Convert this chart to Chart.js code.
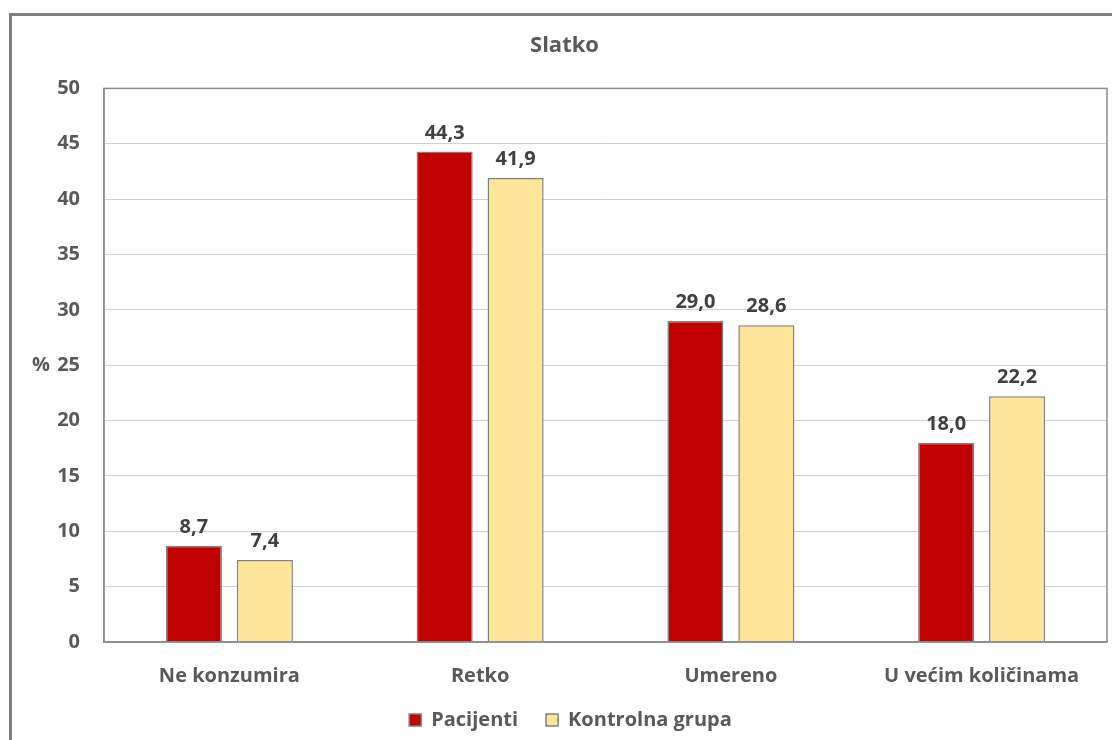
<!DOCTYPE html>
<html>
<head>
<meta charset="utf-8">
<script src="https://cdn.jsdelivr.net/npm/chart.js@4"></script>
<style>
    html, body { margin: 0; padding: 0; background: #fff; overflow: hidden; }
    #okvir {
        position: absolute; left: 9px; top: 13px;
        width: 1200px; height: 800px;
        border: 3px solid #7f7f7f;
    }
    #grafik { position: absolute; left: 0; top: 0; }
</style>
</head>
<body>
<div id="okvir"></div>
<canvas id="grafik" width="1112" height="740"></canvas>
<script>
const kategorije = ['Ne konzumira', 'Retko', 'Umereno', 'U većim količinama'];
const pacijenti = [8.7, 44.3, 29.0, 18.0];
const kontrolnaGrupa = [7.4, 41.9, 28.6, 22.2];
const yPodeoci = [0, 5, 10, 15, 20, 25, 30, 35, 40, 45, 50];

const FONT = '"Open Sans", "Liberation Sans", sans-serif';
const SIVA_TEKST = '#595959';

// vrednosti iznad stubova, sa zarezom kao decimalnim znakom
const oznakeVrednosti = {
    id: 'oznakeVrednosti',
    afterDatasetsDraw(chart) {
        const ctx = chart.ctx;
        ctx.save();
        ctx.font = 'bold 20px ' + FONT;
        ctx.fillStyle = '#404040';
        ctx.textAlign = 'center';
        ctx.textBaseline = 'alphabetic';
        chart.data.datasets.forEach((ds, i) => {
            chart.getDatasetMeta(i).data.forEach((bar, j) => {
                const tekst = ds.data[j].toFixed(1).replace('.', ',');
                ctx.fillText(tekst, bar.x, bar.y - 13);
            });
        });
        ctx.restore();
    }
};

// znak % levo od podeoka 25
const oznakaProcenta = {
    id: 'oznakaProcenta',
    afterDraw(chart) {
        const y = chart.scales.y;
        const ctx = chart.ctx;
        ctx.save();
        ctx.font = 'bold 20px ' + FONT;
        ctx.fillStyle = SIVA_TEKST;
        ctx.textAlign = 'left';
        ctx.textBaseline = 'middle';
        ctx.fillText('%', 32, y.getPixelForValue(25));
        ctx.restore();
    }
};

// okvir oko oblasti grafika
const okvirOblasti = {
    id: 'okvirOblasti',
    afterDatasetsDraw(chart) {
        const a = chart.chartArea;
        const ctx = chart.ctx;
        ctx.save();
        ctx.strokeStyle = '#8c8c8c';
        ctx.lineWidth = 1.5;
        ctx.strokeRect(a.left, a.top, a.right - a.left, a.bottom - a.top);
        ctx.restore();
    }
};

// legenda pomerena malo udesno
const pomeriLegendu = {
    id: 'pomeriLegendu',
    afterLayout(chart) {
        chart.legend.left += 6;
        chart.legend.right += 6;
    }
};

new Chart(document.getElementById('grafik'), {
    type: 'bar',
    data: {
        labels: kategorije,
        datasets: [
            {
                label: 'Pacijenti',
                data: pacijenti,
                backgroundColor: '#c00000',
                borderColor: '#7f7f7f',
                borderWidth: 1.5
            },
            {
                label: 'Kontrolna grupa',
                data: kontrolnaGrupa,
                backgroundColor: '#ffe699',
                borderColor: '#7f7f7f',
                borderWidth: 1.5
            }
        ]
    },
    options: {
        responsive: false,
        animation: false,
        categoryPercentage: 0.566,
        barPercentage: 0.79,
        layout: { padding: { left: 22, right: 5, top: 0, bottom: 0 } },
        plugins: {
            title: {
                display: true,
                text: 'Slatko',
                color: SIVA_TEKST,
                font: { family: FONT, size: 22, weight: 'bold' },
                padding: { top: 33, bottom: 29 }
            },
            legend: {
                position: 'bottom',
                labels: {
                    color: SIVA_TEKST,
                    font: { family: FONT, size: 20, weight: 'bold' },
                    boxWidth: 12,
                    boxHeight: 12,
                    padding: 28
                }
            },
            tooltip: { enabled: false }
        },
        scales: {
            x: {
                afterFit(axis) { axis.height -= 20; },
                grid: { display: false },
                border: { display: true, color: '#8c8c8c', width: 1.5 },
                ticks: {
                    color: SIVA_TEKST,
                    font: { family: FONT, size: 20, weight: 'bold' },
                    padding: 14,
                    maxRotation: 0
                }
            },
            y: {
                min: 0,
                max: 50,
                afterBuildTicks(axis) {
                    axis.ticks = yPodeoci.map(v => ({ value: v }));
                },
                afterFit(axis) { axis.width = 82; },
                grid: { color: '#d0d0d0', lineWidth: 1, drawTicks: false },
                border: { display: true, color: '#8c8c8c', width: 1.5 },
                ticks: {
                    color: SIVA_TEKST,
                    font: { family: FONT, size: 20, weight: 'bold' },
                    padding: 24
                }
            }
        }
    },
    plugins: [oznakeVrednosti, oznakaProcenta, okvirOblasti, pomeriLegendu]
});
</script>
</body>
</html>
